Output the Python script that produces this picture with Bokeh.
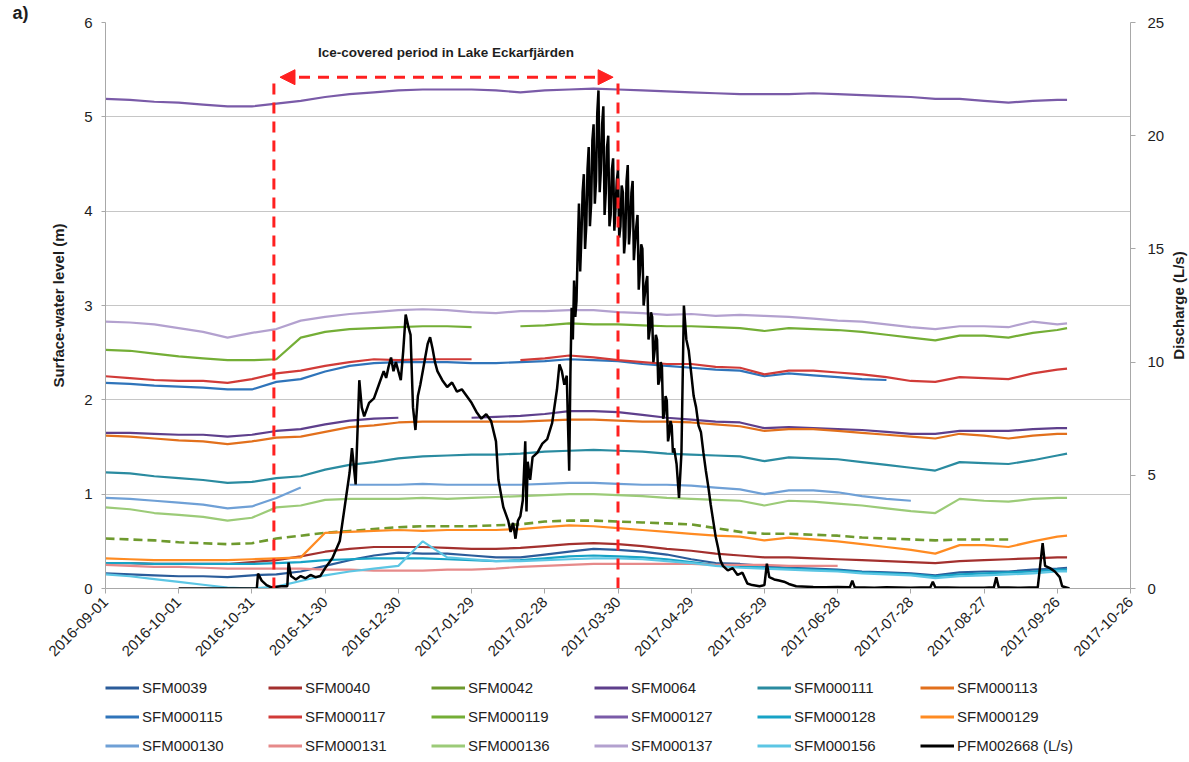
from math import pi
import pandas as pd
from bokeh.plotting import figure
from bokeh.layouts import column, row
from bokeh.models import (Range1d, LinearAxis, FixedTicker, DatetimeTickFormatter,
                          Legend, LegendItem, Arrow, NormalHead, Label, Title)
from bokeh.embed import file_html
from bokeh.resources import INLINE

nan = float("nan")
START = pd.Timestamp("2016-09-01")
END = pd.Timestamp("2017-10-26")

# sampling days (offset from 2016-09-01) for the surface-water level series
sfm_days = list(range(0, 391, 10)) + [394]

SFM0039 = [0.16, 0.15, 0.14, 0.13, 0.13, 0.12, 0.14, 0.15, 0.18, 0.24, 0.30, 0.35, 0.38, 0.37, 0.37, 0.35, 0.33, 0.33, 0.36, 0.39, 0.42, 0.41, 0.39, 0.36, 0.31, 0.27, 0.26, 0.24, 0.22, 0.21, 0.20, 0.18, 0.17, 0.16, 0.14, 0.17, 0.18, 0.18, 0.20, 0.21, 0.22]
SFM0040 = [0.27, 0.27, 0.26, 0.26, 0.26, 0.26, 0.28, 0.30, 0.34, 0.39, 0.42, 0.44, 0.44, 0.44, 0.43, 0.42, 0.42, 0.43, 0.45, 0.47, 0.48, 0.47, 0.45, 0.42, 0.40, 0.37, 0.35, 0.33, 0.33, 0.32, 0.31, 0.30, 0.29, 0.28, 0.27, 0.29, 0.30, 0.31, 0.32, 0.33, 0.33]
SFM0042 = [0.53, 0.52, 0.51, 0.49, 0.48, 0.47, 0.48, 0.53, 0.56, 0.59, 0.61, 0.63, 0.65, 0.66, 0.66, 0.66, 0.67, 0.68, 0.71, 0.72, 0.72, 0.71, 0.70, 0.69, 0.68, 0.64, 0.60, 0.58, 0.58, 0.57, 0.56, 0.54, 0.53, 0.52, 0.51, 0.52, 0.52, 0.52, nan, nan, nan]
SFM0064 = [1.65, 1.65, 1.64, 1.63, 1.63, 1.61, 1.63, 1.67, 1.69, 1.74, 1.78, 1.80, 1.81, nan, nan, 1.81, 1.82, 1.83, 1.85, 1.88, 1.88, 1.87, 1.84, 1.81, 1.79, 1.77, 1.76, 1.70, 1.71, 1.70, 1.69, 1.68, 1.66, 1.64, 1.64, 1.67, 1.67, 1.67, 1.69, 1.70, 1.70]
SFM000111 = [1.23, 1.22, 1.19, 1.17, 1.15, 1.12, 1.13, 1.17, 1.19, 1.26, 1.31, 1.34, 1.38, 1.40, 1.41, 1.42, 1.42, 1.43, 1.45, 1.46, 1.47, 1.46, 1.45, 1.43, 1.42, 1.41, 1.40, 1.35, 1.39, 1.38, 1.37, 1.34, 1.31, 1.28, 1.25, 1.34, 1.33, 1.32, 1.36, 1.41, 1.43]
SFM000113 = [1.62, 1.61, 1.59, 1.57, 1.56, 1.53, 1.56, 1.60, 1.61, 1.66, 1.71, 1.73, 1.76, 1.77, 1.77, 1.77, 1.77, 1.77, 1.78, 1.79, 1.79, 1.78, 1.77, 1.77, 1.76, 1.74, 1.72, 1.67, 1.69, 1.69, 1.67, 1.65, 1.63, 1.61, 1.59, 1.64, 1.62, 1.59, 1.62, 1.64, 1.64]
SFM000115 = [2.18, 2.17, 2.15, 2.14, 2.13, 2.11, 2.11, 2.19, 2.22, 2.30, 2.36, 2.39, 2.40, 2.40, 2.40, 2.39, 2.39, 2.40, 2.41, 2.43, 2.42, 2.41, 2.38, 2.36, 2.34, 2.32, 2.31, 2.25, 2.28, 2.26, 2.24, 2.22, 2.21, nan, nan, nan, nan, nan, nan, nan, nan]
SFM000117 = [2.25, 2.23, 2.21, 2.20, 2.20, 2.18, 2.22, 2.28, 2.31, 2.36, 2.40, 2.43, 2.42, 2.43, 2.43, 2.43, nan, 2.42, 2.44, 2.47, 2.45, 2.42, 2.40, 2.38, 2.38, 2.35, 2.34, 2.27, 2.31, 2.31, 2.29, 2.27, 2.24, 2.20, 2.19, 2.24, 2.23, 2.22, 2.28, 2.32, 2.33]
SFM000119 = [2.53, 2.52, 2.49, 2.46, 2.44, 2.42, 2.42, 2.43, 2.66, 2.72, 2.75, 2.76, 2.77, 2.78, 2.78, 2.77, nan, 2.78, 2.79, 2.81, 2.80, 2.80, 2.79, 2.78, 2.78, 2.77, 2.76, 2.73, 2.76, 2.75, 2.74, 2.72, 2.69, 2.66, 2.63, 2.68, 2.68, 2.66, 2.71, 2.74, 2.76]
SFM000127 = [5.19, 5.18, 5.16, 5.15, 5.13, 5.11, 5.11, 5.14, 5.17, 5.21, 5.24, 5.26, 5.28, 5.29, 5.29, 5.29, 5.28, 5.26, 5.28, 5.29, 5.30, 5.29, 5.28, 5.27, 5.26, 5.25, 5.24, 5.24, 5.24, 5.25, 5.24, 5.23, 5.22, 5.21, 5.19, 5.19, 5.17, 5.15, 5.17, 5.18, 5.18]
SFM000128 = [0.27, 0.27, 0.26, 0.26, 0.26, 0.26, 0.26, 0.27, 0.28, 0.30, 0.31, 0.32, 0.32, 0.32, 0.31, 0.30, 0.29, 0.30, 0.32, 0.34, 0.35, 0.34, 0.33, 0.31, 0.28, 0.25, 0.24, 0.22, 0.21, 0.20, 0.19, 0.17, 0.16, 0.15, 0.13, 0.15, 0.16, 0.17, 0.18, 0.20, 0.20]
SFM000129 = [0.32, 0.31, 0.30, 0.30, 0.30, 0.30, 0.31, 0.32, 0.33, 0.59, 0.60, 0.61, 0.62, 0.61, 0.62, 0.62, 0.62, 0.63, 0.65, 0.67, 0.66, 0.64, 0.62, 0.60, 0.58, 0.56, 0.55, 0.51, 0.54, 0.52, 0.50, 0.47, 0.44, 0.41, 0.37, 0.46, 0.46, 0.44, 0.50, 0.55, 0.56]
SFM000130 = [0.96, 0.95, 0.93, 0.91, 0.89, 0.85, 0.87, 0.96, 1.07, nan, 1.10, 1.10, 1.10, 1.11, 1.10, 1.10, 1.10, 1.10, 1.11, 1.12, 1.12, 1.11, 1.10, 1.10, 1.09, 1.07, 1.05, 1.00, 1.04, 1.04, 1.02, 0.98, 0.95, 0.93, nan, nan, nan, nan, nan, nan, nan]
SFM000131 = [0.25, 0.24, 0.23, 0.23, 0.22, 0.21, 0.21, 0.21, 0.21, 0.20, 0.20, 0.19, 0.19, 0.19, 0.20, 0.20, 0.21, 0.23, 0.24, 0.25, 0.26, 0.26, 0.26, 0.26, 0.26, 0.25, 0.25, 0.25, 0.24, 0.24, 0.24, nan, nan, nan, nan, nan, nan, nan, nan, nan, nan]
SFM000136 = [0.86, 0.84, 0.80, 0.78, 0.76, 0.72, 0.75, 0.86, 0.88, 0.94, 0.95, 0.95, 0.95, 0.96, 0.95, 0.96, 0.97, 0.98, 0.99, 1.00, 1.00, 0.99, 0.98, 0.96, 0.95, 0.94, 0.93, 0.88, 0.93, 0.92, 0.90, 0.88, 0.85, 0.82, 0.80, 0.95, 0.93, 0.92, 0.95, 0.96, 0.96]
SFM000137 = [2.83, 2.82, 2.80, 2.76, 2.72, 2.66, 2.71, 2.75, 2.84, 2.88, 2.91, 2.93, 2.95, 2.96, 2.95, 2.93, 2.92, 2.94, 2.94, 2.95, 2.95, 2.93, 2.92, 2.90, 2.91, 2.89, 2.90, 2.89, 2.88, 2.86, 2.84, 2.83, 2.80, 2.77, 2.75, 2.78, 2.78, 2.77, 2.83, 2.80, 2.81]
SFM000156 = [0.15, 0.13, 0.10, 0.07, 0.04, 0.01, 0.00, 0.02, 0.08, 0.14, 0.18, 0.21, 0.24, 0.50, 0.33, 0.31, 0.29, 0.29, 0.30, 0.31, 0.32, 0.32, 0.31, 0.29, 0.27, 0.24, 0.22, 0.21, 0.20, 0.19, 0.18, 0.16, 0.15, 0.14, 0.11, 0.13, 0.14, 0.15, 0.16, 0.18, 0.18]

# discharge PFM002668 (L/s): day offsets and values, in three stretches
q_days_rise = [30, 45, 62, 62.5, 64, 66, 68, 72, 74.5, 75, 76, 78, 80, 82, 84, 86, 88, 90, 93, 96, 98, 100, 101,
               102.5, 104, 105, 106, 108, 110, 112, 114, 115, 116, 117, 118, 119, 121, 122, 123, 124, 125, 126, 127,
               128, 129, 130, 131, 132, 133, 134, 135, 136, 138, 140, 142, 144, 146, 148, 150, 152, 154, 156, 158,
               160, 161, 163, 165, 166, 167, 168, 169, 170, 171, 172, 172.5, 173, 174, 175, 177, 179, 181, 183, 185,
               186, 187, 188, 189, 190, 190.5]
q_vals_rise = [0, 0, 0, 0.66, 0.35, 0.15, 0.05, 0.1, 0.1, 1.15, 0.55, 0.4, 0.55, 0.45, 0.6, 0.5, 0.55, 0.9, 1.35, 2.1,
               3.6, 5.1, 6.2, 4.6, 9.2, 8.0, 7.6, 8.2, 8.4, 9.0, 9.6, 9.3, 9.8, 10.2, 9.6, 10.0, 9.2, 10.5, 12.1, 11.6,
               11.2, 8.0, 7.0, 8.5, 9.0, 9.6, 10.2, 10.8, 11.1, 10.6, 10.0, 9.6, 9.2, 8.9, 9.1, 8.7, 8.8, 8.5, 8.2,
               7.8, 7.5, 7.7, 7.4, 6.5, 4.8, 3.6, 3.0, 2.5, 2.9, 2.2, 3.0, 3.2, 3.9, 6.5, 3.4, 5.6, 4.8, 5.8, 6.0,
               6.4, 6.6, 7.3, 8.8, 9.9, 9.6, 9.0, 9.4, 5.2, 9.5]
q_days_peak = [191 + 0.5 * i for i in range(85)]
q_vals_peak = [12.4, 11.0, 13.6, 12.0, 12.7, 15.0, 17.0, 14.0, 15.5, 17.5, 18.3, 15.0, 16.0, 18.5, 19.5, 16.0, 17.0,
               19.8, 20.5, 17.0, 18.0, 21.0, 22.0, 17.5, 18.5, 20.5, 21.3, 16.5, 17.5, 19.5, 20.0, 16.0, 16.5, 18.5,
               19.0, 15.8, 16.8, 18.0, 18.5, 15.5, 16.0, 17.8, 17.5, 14.8, 15.5, 18.0, 18.7, 15.2, 16.0, 17.5, 18.0,
               14.5, 15.3, 16.0, 16.5, 13.2, 14.0, 15.2, 15.0, 12.5, 13.0, 13.5, 13.8, 11.0, 11.4, 12.2, 12.0, 10.0,
               10.5, 11.2, 11.0, 9.0, 9.2, 10.0, 9.8, 7.5, 7.7, 8.5, 8.3, 6.5, 6.8, 7.4, 7.2, 6.0, 6.2]
q_days_fall = [234, 235, 236, 237, 238, 239, 240, 241, 242, 243, 244, 245, 246, 247, 248, 249, 250, 251, 252, 253,
               255, 257, 259, 261, 263, 265, 268, 270, 271, 272, 274, 276, 278, 280, 283, 290, 295, 300, 305, 306,
               307, 315, 320, 330, 338, 339, 340, 350, 360, 364, 365, 366, 375, 382, 384, 385, 387, 389, 391, 392, 395]
q_vals_fall = [5.5, 4.0, 6.0, 12.5, 11.0, 10.5, 9.5, 8.5, 8.0, 7.2, 6.9, 6.0, 5.2, 4.5, 3.7, 3.0, 2.3, 1.8, 1.23, 1.0,
               0.8, 0.9, 0.6, 0.7, 0.22, 0.15, 0.1, 0.15, 1.1, 0.5, 0.4, 0.35, 0.3, 0.2, 0.1, 0.07, 0.05, 0.07, 0.05,
               0.35, 0.05, 0.03, 0.05, 0.03, 0.05, 0.3, 0.05, 0.03, 0.03, 0.05, 0.5, 0.05, 0.03, 0.05, 2.0, 1.0, 0.9,
               0.75, 0.5, 0.1, 0.0]

x_tick_dates = ["2016-09-01", "2016-10-01", "2016-10-31", "2016-11-30", "2016-12-30", "2017-01-29", "2017-02-28",
                "2017-03-30", "2017-04-29", "2017-05-29", "2017-06-28", "2017-07-28", "2017-08-27", "2017-09-26",
                "2017-10-26"]
y_ticks = [0, 1, 2, 3, 4, 5, 6]
q_ticks = [0, 5, 10, 15, 20, 25]

ICE_START = "2016-11-09"
ICE_END = "2017-03-30"
ICE_LEVEL = 5.42
ICE_TEXT = "Ice-covered period in Lake Eckarfjärden"
ICE_TEXT_LEVEL = 5.68

series = [
    ("SFM0039", SFM0039, "#2B5C9A"),
    ("SFM0040", SFM0040, "#A3302E"),
    ("SFM0042", SFM0042, "#6E9A2E"),
    ("SFM0064", SFM0064, "#5E3F8C"),
    ("SFM000111", SFM000111, "#2A8BA0"),
    ("SFM000113", SFM000113, "#E2701C"),
    ("SFM000115", SFM000115, "#2F74BA"),
    ("SFM000117", SFM000117, "#D13B38"),
    ("SFM000119", SFM000119, "#74AE36"),
    ("SFM000127", SFM000127, "#7A5BA8"),
    ("SFM000128", SFM000128, "#17A3C6"),
    ("SFM000129", SFM000129, "#FF8B22"),
    ("SFM000130", SFM000130, "#6FA0D6"),
    ("SFM000131", SFM000131, "#E68A8A"),
    ("SFM000136", SFM000136, "#9CCB78"),
    ("SFM000137", SFM000137, "#B3A1CF"),
    ("SFM000156", SFM000156, "#5CC6E4"),
]
Q_NAME = "PFM002668 (L/s)"
Q_AXIS_TITLE = "Discharge (L/s)"

FONT = "Liberation Sans"
GRID = "#C6C6C6"
AXIS = "#A8A8A8"
TXT = "#1E1E1E"
RED = "#FF2020"
TITLE_H = 22
FRAME_H = 566
BOTTOM_H = 86


def to_dt(days):
    return [START + pd.Timedelta(days=d) for d in days]


def ms(ts):
    return pd.Timestamp(ts).value / 1e6


q_x = to_dt(q_days_rise + q_days_peak + q_days_fall)
q_y = q_vals_rise + q_vals_peak + q_vals_fall

p = figure(x_axis_type="datetime", frame_width=1025, frame_height=FRAME_H,
           output_backend="svg", toolbar_location=None,
           x_range=Range1d(START, END), y_range=Range1d(0, 6),
           min_border_left=105, min_border_top=20, min_border_right=30, min_border_bottom=BOTTOM_H)
p.outline_line_color = None
p.extra_y_ranges = {"q": Range1d(0, 25)}

p.title = Title(text="a)", align="left", offset=-93, standoff=0, text_font=FONT,
                text_font_size="18px", text_font_style="bold", text_color=TXT)

# x axis
p.xaxis.ticker = FixedTicker(ticks=[ms(d) for d in x_tick_dates])
p.xaxis.formatter = DatetimeTickFormatter(days="%Y-%m-%d", months="%Y-%m-%d", years="%Y-%m-%d",
                                          hours="%Y-%m-%d", hourmin="%Y-%m-%d")
p.xaxis.major_label_orientation = pi / 4
p.xaxis.minor_tick_line_color = None
p.xaxis.major_tick_in = 0
p.xaxis.major_tick_out = 5
p.xaxis.major_label_standoff = 6
p.xgrid.visible = False

# left axis
p.yaxis.ticker = FixedTicker(ticks=y_ticks)
p.yaxis.minor_tick_line_color = None
p.yaxis.major_tick_in = 0
p.yaxis.major_tick_out = 4
p.yaxis.major_label_standoff = 9
p.yaxis.axis_label = "Surface-water level (m)"
p.yaxis.axis_label_standoff = 14
p.ygrid.ticker = FixedTicker(ticks=y_ticks)
p.ygrid.grid_line_color = GRID
p.ygrid.grid_line_width = 1

right = LinearAxis(y_range_name="q", ticker=FixedTicker(ticks=q_ticks))
right.minor_tick_line_color = None
right.major_tick_in = 0
right.major_tick_out = 5
right.major_label_standoff = 12
p.add_layout(right, "right")

for ax in p.axis:
    ax.axis_line_color = AXIS
    ax.major_tick_line_color = AXIS
    ax.major_label_text_font = FONT
    ax.major_label_text_font_size = "15px"
    ax.major_label_text_color = TXT
    ax.axis_label_text_font = FONT
    ax.axis_label_text_font_size = "15px"
    ax.axis_label_text_font_style = "bold"
    ax.axis_label_text_color = TXT

sfm_x = to_dt(sfm_days)
for name, vals, col in series:
    if name == "SFM0042":
        p.line(sfm_x, vals, line_color=col, line_width=2.6, line_dash="9 5")
    else:
        p.line(sfm_x, vals, line_color=col, line_width=2.2)

p.line(q_x, q_y, y_range_name="q", line_color="black", line_width=2.5)

# ice-covered period markers
p.segment(x0=[pd.Timestamp(ICE_START), pd.Timestamp(ICE_END)], y0=[0, 0],
          x1=[pd.Timestamp(ICE_START), pd.Timestamp(ICE_END)], y1=[ICE_LEVEL, ICE_LEVEL],
          line_color=RED, line_width=3, line_dash="11 8")
p.add_layout(Arrow(start=NormalHead(size=15, fill_color=RED, line_color=RED),
                   end=NormalHead(size=15, fill_color=RED, line_color=RED),
                   x_start=ms(ICE_START) + 2.5 * 86400000, x_end=ms(ICE_END) - 2 * 86400000,
                   y_start=ICE_LEVEL, y_end=ICE_LEVEL,
                   line_color=RED, line_width=3, line_dash="11 8"))
p.add_layout(Label(x=(ms(ICE_START) + ms(ICE_END)) / 2, y=ICE_TEXT_LEVEL, text=ICE_TEXT,
                   text_align="center", text_baseline="middle", text_font=FONT,
                   text_font_size="13.5px", text_font_style="bold", text_color=TXT))

# narrow strip carrying the right-hand axis title (reads bottom to top)
rt = figure(frame_width=22, frame_height=FRAME_H, output_backend="svg", toolbar_location=None,
            x_range=Range1d(0, 1), y_range=Range1d(0, 1),
            min_border_left=0, min_border_right=0, min_border_top=TITLE_H, min_border_bottom=BOTTOM_H,
            x_axis_location=None, y_axis_location=None)
rt.outline_line_color = None
rt.grid.visible = False
rt.add_layout(Label(x=0.5, y=0.5, text=Q_AXIS_TITLE, angle=pi / 2, text_align="center",
                    text_baseline="middle", text_font=FONT, text_font_size="15px",
                    text_font_style="bold", text_color=TXT))

# legend in its own strip below the chart (series drawn there fall outside its ranges)
lg = figure(frame_width=1025, frame_height=87, output_backend="svg", toolbar_location=None,
            x_range=Range1d(0, 1), y_range=Range1d(0, 1),
            min_border_left=105, min_border_right=55, min_border_top=0, min_border_bottom=0,
            x_axis_location=None, y_axis_location=None)
lg.outline_line_color = None
lg.grid.visible = False
items = []
for name, vals, col in series:
    r = lg.line(sfm_x, vals, line_color=col, line_width=3)
    items.append(LegendItem(label=name, renderers=[r]))
rq = lg.line(q_x, q_y, line_color="black", line_width=3)
items.append(LegendItem(label=Q_NAME, renderers=[rq]))

legend = Legend(items=items, orientation="horizontal", ncols=6, location="top_left",
                padding=0, margin=0, spacing=2, glyph_width=34, glyph_height=27,
                label_height=27, label_width=124, label_standoff=3,
                border_line_color=None, background_fill_alpha=0,
                label_text_font=FONT, label_text_font_size="15px", label_text_color=TXT)
lg.add_layout(legend)

layout = column(row(p, rt, spacing=0), lg, spacing=0)
open("out.html", "w").write(file_html(layout, INLINE))
